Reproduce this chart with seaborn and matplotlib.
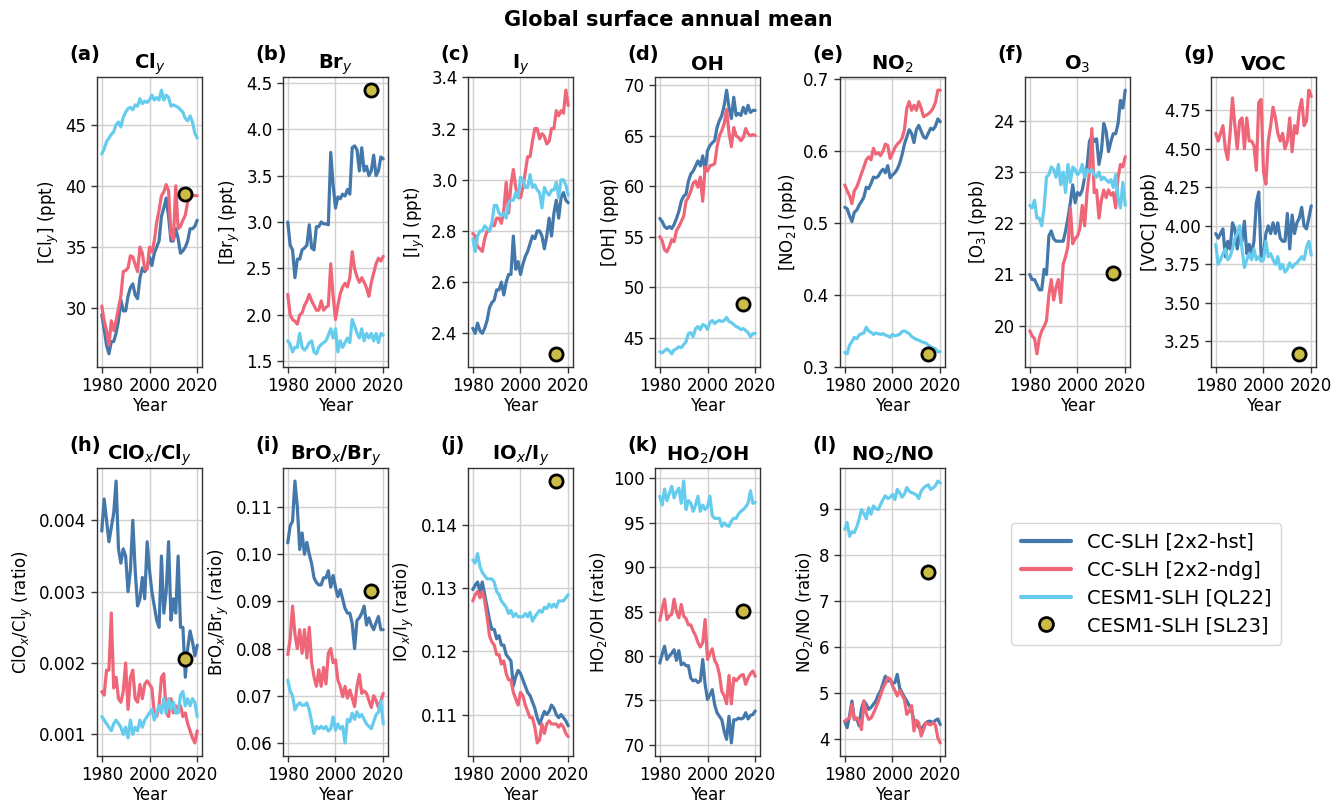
import numpy as np
import pandas as pd
import matplotlib
matplotlib.use("Agg")
import matplotlib.pyplot as plt
from matplotlib.lines import Line2D
import seaborn as sns

years = list(range(1980, 2021))
models = ["CC-SLH [2x2-hst]", "CC-SLH [2x2-ndg]", "CESM1-SLH [QL22]"]
dot_label = "CESM1-SLH [SL23]"
dot_year = 2015

# (a) Cly
hst_a = [29.5, 28.3, 27.0, 26.3, 27.3, 27.3, 28.0, 29.0, 30.7, 29.8,
         29.8, 31.0, 31.7, 32.0, 31.1, 30.8, 32.5, 33.3, 33.0, 33.3,
         34.2, 33.5, 34.5, 35.0, 35.5, 37.5, 38.2, 39.0, 37.5, 35.5,
         35.5, 36.5, 35.7, 34.5, 34.7, 35.0, 35.5, 36.5, 36.5, 36.7, 37.2]
ndg_a = [30.2, 29.0, 28.2, 27.0, 29.0, 28.2, 29.0, 30.0, 31.0, 33.0,
         33.1, 33.3, 34.3, 34.2, 33.6, 33.0, 35.0, 34.5, 33.2, 33.2,
         35.0, 34.6, 35.5, 37.0, 38.0, 39.2, 39.5, 40.1, 39.6, 36.0,
         35.6, 40.0, 36.5, 36.7, 37.2, 37.6, 38.7, 39.0, 39.2, 39.2, 39.2]
ql_a = [42.6, 43.0, 43.6, 43.9, 44.2, 44.4, 45.0, 45.2, 44.8, 45.6,
        46.0, 46.3, 46.4, 46.2, 46.6, 46.5, 47.1, 46.7, 46.9, 46.8,
        47.0, 47.4, 47.0, 47.2, 47.0, 47.8, 47.0, 47.4, 47.2, 46.5,
        46.6, 46.5, 46.4, 46.2, 46.0, 45.5, 45.3, 45.7, 45.2, 44.3, 43.9]

# (b) Bry
hst_b = [3.0, 2.75, 2.7, 2.4, 2.6, 2.6, 2.7, 2.72, 2.75, 2.97,
         2.72, 2.7, 2.95, 2.95, 3.0, 2.98, 2.98, 2.97, 3.75, 3.4,
         3.15, 3.27, 3.25, 3.3, 3.28, 3.35, 3.3, 3.8, 3.82, 3.78,
         3.55, 3.8, 3.55, 3.6, 3.5, 3.55, 3.72, 3.5, 3.55, 3.7, 3.68]
ndg_b = [2.22, 2.0, 1.95, 1.93, 1.9, 2.0, 2.02, 2.1, 2.15, 2.22,
         2.15, 2.1, 2.05, 2.05, 2.15, 2.05, 2.08, 2.1, 2.55, 2.2,
         1.95, 2.1, 2.23, 2.3, 2.34, 2.3, 2.4, 2.68, 2.5, 2.41,
         2.35, 2.4, 2.35, 2.29, 2.2, 2.35, 2.45, 2.55, 2.61, 2.58, 2.63]
ql_b = [1.72, 1.68, 1.6, 1.65, 1.65, 1.8, 1.65, 1.62, 1.65, 1.7,
        1.72, 1.6, 1.58, 1.65, 1.68, 1.7, 1.72, 1.78, 1.85, 1.75,
        1.85, 1.6, 1.72, 1.65, 1.7, 1.75, 1.7, 1.95, 1.88, 1.8,
        1.75, 1.85, 1.72, 1.8, 1.75, 1.8, 1.72, 1.8, 1.7, 1.8, 1.78]

# (c) Iy
hst_c = [2.42, 2.40, 2.44, 2.41, 2.40, 2.42, 2.45, 2.50, 2.52, 2.53,
         2.57, 2.57, 2.60, 2.55, 2.60, 2.63, 2.63, 2.78, 2.65, 2.68,
         2.63, 2.67, 2.70, 2.72, 2.75, 2.78, 2.77, 2.80, 2.80, 2.78,
         2.73, 2.78, 2.85, 2.78, 2.87, 2.92, 2.85, 2.93, 2.95, 2.92, 2.91]
ndg_c = [2.79, 2.78, 2.74, 2.73, 2.72, 2.77, 2.80, 2.80, 2.83, 2.82,
         2.85, 2.85, 2.83, 2.88, 2.99, 2.87, 2.98, 3.04, 2.97, 2.93,
         2.93, 2.97, 3.03, 3.09, 3.09, 3.15, 3.20, 3.20, 3.16, 3.18,
         3.17, 3.14, 3.15, 3.20, 3.20, 3.27, 3.25, 3.27, 3.26, 3.35, 3.29]
ql_c = [2.77, 2.72, 2.78, 2.80, 2.80, 2.82, 2.81, 2.80, 2.83, 2.90,
        2.90, 2.87, 2.86, 2.87, 2.85, 2.91, 2.92, 2.92, 2.95, 2.93,
        3.01, 3.00, 2.97, 2.97, 3.02, 2.97, 2.98, 2.96, 2.95, 2.89,
        2.97, 2.95, 2.94, 2.96, 2.96, 2.99, 2.93, 3.00, 3.00, 2.98, 2.94]

# (d) OH
hst_d = [56.8, 56.5, 56.0, 55.8, 56.0, 55.8, 56.2, 56.8, 57.5, 58.5,
         59.0, 59.2, 60.5, 61.2, 61.5, 62.0, 62.5, 62.0, 63.0, 61.5,
         63.5, 64.0, 64.3, 64.5, 65.8, 66.5, 67.0, 68.0, 69.5, 67.8,
         66.7, 68.8, 67.0, 67.2, 67.0, 67.8, 67.2, 68.0, 67.3, 67.5, 67.5]
ndg_d = [55.0, 54.6, 53.7, 53.5, 54.0, 54.7, 54.5, 55.6, 56.0, 56.5,
         57.0, 58.5, 58.9, 59.5, 60.3, 60.5, 59.9, 60.9, 58.5, 61.9,
         61.5, 62.0, 62.1, 62.2, 63.9, 65.0, 65.5, 66.2, 67.6, 65.3,
         63.9, 65.8, 65.0, 64.8, 64.5, 64.8, 65.7, 65.2, 65.0, 65.1, 65.0]
ql_d = [43.6, 43.5, 43.7, 43.9, 43.7, 43.4, 43.8, 43.9, 44.1, 44.0,
        44.3, 44.6, 45.4, 45.5, 45.1, 45.9, 46.1, 45.8, 46.3, 46.2,
        45.8, 46.5, 46.7, 46.4, 46.6, 46.7, 46.6, 46.7, 47.0, 46.6,
        46.5, 46.3, 46.1, 46.0, 45.8, 45.9, 45.7, 45.5, 45.1, 45.4, 45.4]

# (e) NO2
hst_e = [0.522, 0.520, 0.510, 0.502, 0.515, 0.518, 0.525, 0.530, 0.536, 0.550,
         0.548, 0.555, 0.564, 0.563, 0.565, 0.571, 0.575, 0.570, 0.580, 0.563,
         0.567, 0.570, 0.575, 0.583, 0.595, 0.610, 0.620, 0.630, 0.625, 0.612,
         0.630, 0.636, 0.628, 0.620, 0.618, 0.625, 0.632, 0.630, 0.635, 0.645, 0.641]
ndg_e = [0.553, 0.545, 0.538, 0.527, 0.545, 0.550, 0.559, 0.569, 0.578, 0.588,
         0.592, 0.588, 0.604, 0.596, 0.598, 0.594, 0.600, 0.610, 0.608, 0.590,
         0.597, 0.605, 0.610, 0.613, 0.618, 0.630, 0.660, 0.669, 0.657, 0.664,
         0.657, 0.669, 0.660, 0.648, 0.650, 0.652, 0.655, 0.660, 0.668, 0.685, 0.685]
ql_e = [0.320, 0.318, 0.330, 0.335, 0.341, 0.339, 0.344, 0.346, 0.347, 0.355,
        0.350, 0.348, 0.345, 0.347, 0.346, 0.345, 0.346, 0.344, 0.343, 0.341,
        0.345, 0.343, 0.344, 0.345, 0.349, 0.350, 0.348, 0.346, 0.342, 0.340,
        0.338, 0.337, 0.335, 0.334, 0.333, 0.330, 0.328, 0.326, 0.325, 0.321, 0.321]

# (f) O3
hst_f = [21.0, 20.9, 20.9, 20.8, 20.7, 20.7, 21.1, 21.0, 21.75, 21.85,
         21.7, 21.65, 21.65, 21.65, 21.65, 21.85, 22.1, 22.4, 22.75, 22.4,
         22.6, 22.55, 22.65, 22.9, 23.1, 23.6, 23.7, 23.6, 23.65, 23.15,
         23.4, 23.95, 23.8, 23.4, 23.6, 23.75, 23.75, 23.95, 24.4, 24.25, 24.6]
ndg_f = [19.9, 19.8, 19.75, 19.45, 19.75, 19.9, 19.98, 20.1, 20.6, 20.9,
         20.5, 20.75, 20.9, 20.45, 21.2, 21.35, 21.55, 22.3, 21.6, 21.7,
         21.75, 21.9, 22.35, 21.95, 22.6, 23.0, 23.85, 22.6, 22.65, 22.1,
         22.45, 22.65, 22.5, 22.65, 22.55, 22.6, 22.3, 22.9, 23.15, 23.1, 23.3]
ql_f = [22.35, 22.3, 22.45, 22.1, 22.1, 21.95, 22.3, 22.9, 22.95, 23.1,
        23.05, 22.9, 23.15, 22.75, 23.0, 22.6, 23.15, 22.8, 23.1, 23.05,
        22.95, 23.0, 23.15, 22.9, 23.05, 23.0, 23.05, 22.95, 22.9, 23.0,
        22.85, 22.9, 22.85, 22.8, 22.85, 22.7, 22.95, 22.5, 22.3, 22.8, 22.35]

# (g) VOC
hst_g = [3.95, 3.92, 3.95, 3.98, 3.8, 3.9, 3.85, 4.02, 3.98, 3.85,
         3.95, 3.9, 4.03, 3.82, 3.88, 3.82, 3.9, 4.15, 4.22, 3.8,
         3.82, 3.95, 4.0, 3.95, 4.02, 3.95, 4.02, 3.92, 3.9, 3.9,
         4.08, 3.85, 4.07, 3.95, 4.02, 4.05, 4.12, 4.0, 3.98, 4.05, 4.13]
ndg_g = [4.6, 4.55, 4.6, 4.65, 4.5, 4.43, 4.6, 4.83, 4.65, 4.5,
         4.68, 4.7, 4.5, 4.7, 4.55, 4.55, 4.52, 4.36, 4.8, 4.82,
         4.35, 4.27, 4.55, 4.65, 4.77, 4.7, 4.6, 4.55, 4.6, 4.5,
         4.55, 4.7, 4.48, 4.65, 4.6, 4.75, 4.82, 4.65, 4.68, 4.88, 4.84]
ql_g = [3.88, 3.75, 3.78, 3.82, 3.85, 3.78, 3.8, 3.85, 3.92, 3.95,
        4.0, 3.85, 3.73, 3.78, 3.82, 3.78, 3.85, 3.78, 3.8, 3.77,
        3.78, 3.9, 3.8, 3.82, 3.78, 3.75, 3.8, 3.72, 3.75, 3.7,
        3.72, 3.76, 3.73, 3.75, 3.76, 3.78, 3.8, 3.78, 3.86, 3.9, 3.81]

# (h) ClOx/Cly
hst_h = [0.00385, 0.0043, 0.0040, 0.0037, 0.0039, 0.0041, 0.00455, 0.0036, 0.0034, 0.0036,
         0.0035, 0.0030, 0.0033, 0.0040, 0.0033, 0.0028, 0.0029, 0.0032, 0.0029, 0.0037,
         0.0033, 0.0030, 0.0028, 0.0026, 0.0025, 0.0035, 0.0027, 0.0030, 0.0037, 0.0026,
         0.0029, 0.0027, 0.0035, 0.0025, 0.0025, 0.0018, 0.0022, 0.00245, 0.0023, 0.0021, 0.00225]
ndg_h = [0.0016, 0.00155, 0.0019, 0.0019, 0.0027, 0.00165, 0.0018, 0.0015, 0.00145, 0.0016,
         0.0020, 0.00135, 0.0018, 0.0019, 0.0015, 0.00145, 0.0017, 0.0015, 0.0017, 0.00175,
         0.0017, 0.00165, 0.0013, 0.00125, 0.0014, 0.0018, 0.00185, 0.0013, 0.00125, 0.0015,
         0.0013, 0.0014, 0.00135, 0.0014, 0.00125, 0.0013, 0.00115, 0.00105, 0.00095, 0.00088, 0.00105]
ql_h = [0.00125, 0.0012, 0.00115, 0.0011, 0.00105, 0.00115, 0.0012, 0.00115, 0.0011, 0.0010,
        0.0011, 0.00095, 0.0012, 0.0010, 0.0011, 0.00105, 0.0012, 0.0011, 0.0012, 0.00125,
        0.0013, 0.00135, 0.0012, 0.0013, 0.0014, 0.0013, 0.0015, 0.0013, 0.0015, 0.00135,
        0.00145, 0.0013, 0.0013, 0.00155, 0.0016, 0.0014, 0.0015, 0.0014, 0.0015, 0.00145, 0.00125]

# (i) BrOx/Bry
hst_i = [0.1024, 0.106, 0.107, 0.1155, 0.110, 0.101, 0.1045, 0.100, 0.1025, 0.100,
         0.098, 0.095, 0.094, 0.0935, 0.0935, 0.095, 0.095, 0.0965, 0.093, 0.0955,
         0.093, 0.091, 0.0925, 0.0905, 0.0885, 0.0875, 0.0875, 0.0853, 0.080, 0.086,
         0.0865, 0.0875, 0.089, 0.085, 0.0865, 0.085, 0.084, 0.0855, 0.0868, 0.084, 0.084]
ndg_i = [0.0787, 0.082, 0.089, 0.083, 0.080, 0.084, 0.079, 0.084, 0.078, 0.0845,
         0.077, 0.074, 0.072, 0.0755, 0.072, 0.076, 0.0725, 0.079, 0.080, 0.077,
         0.0776, 0.0733, 0.072, 0.0698, 0.072, 0.0695, 0.0712, 0.0695, 0.0677, 0.072,
         0.0745, 0.0705, 0.071, 0.0705, 0.069, 0.0675, 0.070, 0.069, 0.0675, 0.069, 0.0705]
ql_i = [0.0733, 0.071, 0.070, 0.067, 0.068, 0.0685, 0.068, 0.068, 0.0685, 0.067,
        0.0645, 0.062, 0.0635, 0.063, 0.0635, 0.063, 0.0635, 0.0625, 0.063, 0.0655,
        0.0627, 0.064, 0.063, 0.0635, 0.060, 0.065, 0.0645, 0.0663, 0.065, 0.0666,
        0.0655, 0.066, 0.065, 0.064, 0.0635, 0.063, 0.0645, 0.066, 0.0665, 0.069, 0.064]

# (j) IOx/Iy
hst_j = [0.1298, 0.1305, 0.131, 0.1295, 0.131, 0.129, 0.127, 0.125, 0.1235, 0.1235,
         0.122, 0.1225, 0.121, 0.121, 0.1195, 0.119, 0.1185, 0.1145, 0.116, 0.117,
         0.1165, 0.1155, 0.1145, 0.1135, 0.113, 0.112, 0.111, 0.1095, 0.1085, 0.1095,
         0.1105, 0.110, 0.1105, 0.1115, 0.111, 0.110, 0.1095, 0.110, 0.1095, 0.109, 0.1082]
ndg_j = [0.128, 0.129, 0.1295, 0.1285, 0.1295, 0.128, 0.1255, 0.1225, 0.1215, 0.121,
         0.1195, 0.1195, 0.118, 0.1185, 0.1165, 0.1155, 0.1155, 0.1135, 0.1125, 0.1115,
         0.1135, 0.113, 0.1115, 0.1105, 0.1095, 0.1095, 0.108, 0.1055, 0.106, 0.1085,
         0.107, 0.1085, 0.109, 0.1085, 0.1085, 0.1085, 0.108, 0.1085, 0.108, 0.107, 0.1065]
ql_j = [0.1345, 0.134, 0.1355, 0.1335, 0.1325, 0.132, 0.1315, 0.1315, 0.1315, 0.131,
        0.1295, 0.129, 0.128, 0.1275, 0.127, 0.126, 0.1265, 0.1255, 0.126, 0.1255,
        0.1255, 0.1255, 0.126, 0.1255, 0.1262, 0.1248, 0.1255, 0.126, 0.1265, 0.1262,
        0.127, 0.1268, 0.1275, 0.127, 0.1275, 0.127, 0.128, 0.128, 0.128, 0.1285, 0.129]

# (k) HO2/OH
hst_k = [79.2, 80.2, 81.1, 79.6, 80.0, 80.3, 80.7, 79.5, 80.6, 79.0,
         79.2, 78.9, 78.9, 77.5, 77.2, 77.3, 77.0, 77.2, 79.6, 76.8,
         75.1, 75.6, 76.2, 74.5, 73.6, 73.2, 72.8, 71.5, 70.6, 73.2,
         70.2, 72.8, 72.8, 73.0, 72.9, 73.0, 73.6, 72.9, 73.3, 73.4, 73.8]
ndg_k = [84.0, 85.3, 86.4, 84.1, 84.5, 84.7, 86.4, 85.0, 84.3, 85.8,
         84.5, 84.2, 83.5, 83.5, 82.8, 82.3, 81.5, 81.0, 81.5, 84.1,
         79.6, 80.3, 80.8, 79.5, 79.0, 77.9, 76.0, 75.5, 74.6, 77.8,
         74.6, 77.5, 77.2, 77.5, 77.8, 77.9, 76.8, 77.5, 78.0, 78.3, 77.7]
ql_k = [98.0, 97.0, 98.8, 97.5, 98.3, 99.1, 97.8, 98.5, 98.9, 97.2,
        99.7, 96.5, 97.5, 97.2, 96.3, 97.0, 98.0, 96.3, 97.0, 96.5,
        96.8, 98.0, 95.8, 95.5, 95.5, 95.5, 94.6, 95.0, 94.7, 94.6,
        95.2, 95.5, 95.5, 96.0, 96.3, 96.5, 96.8, 97.2, 98.6, 97.2, 97.3]

# (l) NO2/NO
hst_l = [4.38, 4.24, 4.5, 4.82, 4.42, 4.45, 4.28, 4.65, 4.82, 4.75,
         4.64, 4.68, 4.75, 4.82, 4.95, 5.04, 5.2, 5.36, 5.25, 5.29,
         5.2, 5.22, 5.4, 5.1, 5.0, 4.9, 4.82, 4.72, 4.64, 4.38,
         4.35, 4.25, 4.2, 4.28, 4.35, 4.38, 4.38, 4.35, 4.4, 4.43, 4.31]
ndg_l = [4.38, 4.42, 4.45, 4.75, 4.42, 4.45, 4.4, 4.2, 4.82, 4.55,
         4.42, 4.45, 4.55, 4.67, 4.8, 4.95, 5.1, 5.2, 5.33, 5.3,
         5.15, 5.05, 4.93, 5.05, 4.95, 4.85, 4.53, 4.6, 4.72, 4.17,
         4.4, 4.35, 4.06, 4.2, 4.35, 4.32, 4.3, 4.35, 4.3, 4.02, 3.91]
ql_l = [8.55, 8.7, 8.4, 8.5, 8.48, 8.6, 8.77, 8.98, 8.9, 8.78,
        9.02, 8.88, 9.06, 9.0, 8.98, 9.09, 9.2, 9.28, 9.22, 9.25,
        9.31, 9.2, 9.42, 9.35, 9.25, 9.32, 9.46, 9.38, 9.35, 9.33,
        9.3, 9.22, 9.38, 9.45, 9.49, 9.52, 9.42, 9.45, 9.5, 9.6, 9.56]

sl23 = [39.3, 4.42, 2.32, 48.3, 0.318, 21.02, 3.17, 0.00205, 0.0922, 0.147, 85.1, 7.63]

letters = ["(a)", "(b)", "(c)", "(d)", "(e)", "(f)", "(g)",
           "(h)", "(i)", "(j)", "(k)", "(l)"]
titles = ["Cl$_y$", "Br$_y$", "I$_y$", "OH", "NO$_2$", "O$_3$", "VOC",
          "ClO$_x$/Cl$_y$", "BrO$_x$/Br$_y$", "IO$_x$/I$_y$", "HO$_2$/OH", "NO$_2$/NO"]
ylabels = ["[Cl$_y$] (ppt)", "[Br$_y$] (ppt)", "[I$_y$] (ppt)", "[OH] (ppq)",
           "[NO$_2$] (ppb)", "[O$_3$] (ppb)", "[VOC] (ppb)",
           "ClO$_x$/Cl$_y$ (ratio)", "BrO$_x$/Br$_y$ (ratio)", "IO$_x$/I$_y$ (ratio)",
           "HO$_2$/OH (ratio)", "NO$_2$/NO (ratio)"]
yticks = [[30, 35, 40, 45],
          [1.5, 2.0, 2.5, 3.0, 3.5, 4.0, 4.5],
          [2.4, 2.6, 2.8, 3.0, 3.2, 3.4],
          [45, 50, 55, 60, 65, 70],
          [0.3, 0.4, 0.5, 0.6, 0.7],
          [20, 21, 22, 23, 24],
          [3.25, 3.50, 3.75, 4.00, 4.25, 4.50, 4.75],
          [0.001, 0.002, 0.003, 0.004],
          [0.06, 0.07, 0.08, 0.09, 0.10, 0.11],
          [0.11, 0.12, 0.13, 0.14],
          [70, 75, 80, 85, 90, 95, 100],
          [4, 5, 6, 7, 8, 9]]
ytickfmt = [None, "%.1f", "%.1f", None, "%.1f", None, "%.2f",
            "%.3f", "%.2f", "%.2f", None, None]

series = [(hst_a, ndg_a, ql_a), (hst_b, ndg_b, ql_b), (hst_c, ndg_c, ql_c),
          (hst_d, ndg_d, ql_d), (hst_e, ndg_e, ql_e), (hst_f, ndg_f, ql_f),
          (hst_g, ndg_g, ql_g), (hst_h, ndg_h, ql_h), (hst_i, ndg_i, ql_i),
          (hst_j, ndg_j, ql_j), (hst_k, ndg_k, ql_k), (hst_l, ndg_l, ql_l)]

palette = {models[0]: "#4477AA", models[1]: "#EE6677", models[2]: "#66CCEE"}
dot_color = "#CCBB44"

sns.set_style("ticks", {"axes.grid": True, "grid.color": "#d0d0d0",
                        "axes.edgecolor": "#333333"})
plt.rcParams["font.family"] = ["DejaVu Sans"]
plt.rcParams["axes.linewidth"] = 1.0
plt.rcParams["text.color"] = "black"
plt.rcParams["axes.labelcolor"] = "black"
plt.rcParams["xtick.labelcolor"] = "black"
plt.rcParams["ytick.labelcolor"] = "black"

fig = plt.figure(figsize=(13.37, 8.02), dpi=100)
W, H = 1337.0, 802.0
col_left = [97, 283, 468, 655, 840, 1025, 1211]
ax_w = 105
rows = [(77, 367), (468, 756)]

for idx in range(12):
    r = 0 if idx < 7 else 1
    c = idx if idx < 7 else idx - 7
    top, bot = rows[r]
    ax = fig.add_axes([col_left[c] / W, 1 - bot / H, ax_w / W, (bot - top) / H])
    hst, ndg, ql = series[idx]
    df = pd.DataFrame({
        "Year": years * 3,
        "value": hst + ndg + ql,
        "model": [models[0]] * len(years) + [models[1]] * len(years) + [models[2]] * len(years),
    })
    sns.lineplot(data=df, x="Year", y="value", hue="model", hue_order=models,
                 palette=palette, estimator=None, linewidth=2.3, legend=False, ax=ax)
    sns.scatterplot(x=[dot_year], y=[sl23[idx]], color=dot_color, edgecolor="black",
                    linewidth=2, s=90, zorder=5, ax=ax, legend=False)
    ax.set_xticks([1980, 2000, 2020])
    ax.set_yticks(yticks[idx])
    if ytickfmt[idx]:
        ax.yaxis.set_major_formatter(matplotlib.ticker.FormatStrFormatter(ytickfmt[idx]))
    ax.tick_params(labelsize=12, length=4, width=1, color="#333333", labelcolor="black")
    ax.set_xlabel("Year", fontsize=12, labelpad=1, color="black")
    ax.set_ylabel(ylabels[idx], fontsize=12, labelpad=3, color="black")
    ax.set_title(titles[idx], fontsize=14, fontweight="bold", pad=5, color="black")
    ax.text(-0.26, 1.045, letters[idx], transform=ax.transAxes, fontsize=14,
            fontweight="bold", ha="left", va="bottom", color="black")
    ax.grid(True, color="#d0d0d0", linewidth=1)
    for s in ax.spines.values():
        s.set_visible(True)
        s.set_color("#333333")

handles = [Line2D([], [], color=palette[m], lw=3) for m in models]
handles.append(Line2D([], [], marker="o", ls="", markerfacecolor=dot_color,
                      markeredgecolor="black", markeredgewidth=2, markersize=10))
leg = fig.legend(handles, models + [dot_label], loc="center",
                 bbox_to_anchor=(1146 / W, 1 - 584 / H), fontsize=14,
                 handlelength=2.6, frameon=True, borderpad=0.5, labelspacing=0.45)
for t in leg.get_texts():
    t.set_color("black")

fig.suptitle("Global surface annual mean", fontsize=15, fontweight="bold",
             y=1 - 20 / H, va="center", color="black")

fig.savefig("out.png", dpi=100)
